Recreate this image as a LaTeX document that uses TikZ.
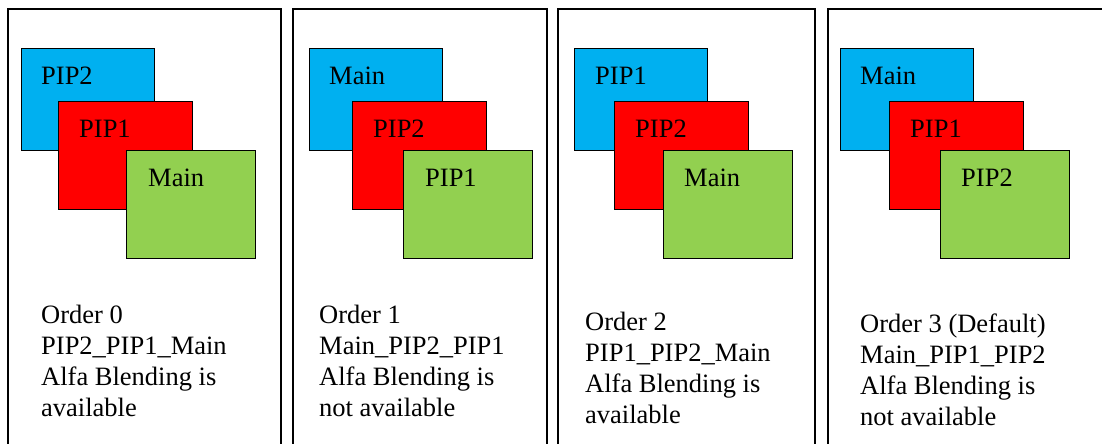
\documentclass[tikz,border=0pt]{standalone}
\usepackage{fontspec}
\setmainfont{Liberation Serif}
\usepackage{xcolor}
\usepackage{tikz}
\definecolor{winblue}{HTML}{00B0F0}
\definecolor{winred}{HTML}{FF0000}
\definecolor{wingreen}{HTML}{92D050}
\tikzset{
    pane/.style = {draw=black, line width=1.3pt},
    win/.style = {rectangle, draw=black, line width=1.4pt, anchor=north west, inner sep=0pt},
    blue_win/.style = {win, fill=winblue, minimum width=133pt, minimum height=102pt},
    red_win/.style = {win, fill=winred, minimum width=134pt, minimum height=108pt},
    green_win/.style = {win, fill=wingreen, minimum width=129pt, minimum height=108pt},
    wname/.style = {anchor=base west, inner sep=0pt, font=\fontsize{26.5}{31}\selectfont},
    otext/.style = {anchor=north west, inner sep=0pt, align=left, font=\fontsize{26.5}{31}\selectfont}
}
\begin{document}
\begin{tikzpicture}[x=1pt, y=-1pt]
    \useasboundingbox (0,0) rectangle (1102,444);
    \clip (0,0) rectangle (1102,444);
    % frames
    \draw[pane] (8,9) rectangle (281,470);
    \draw[pane] (293,9) rectangle (547,470);
    \draw[pane] (558,9) rectangle (815,470);
    \draw[pane] (828,9) rectangle (1120,470);
    % order 0
    \node[blue_win] (b0) at (21,48) {};
    \node[red_win] (r0) at (58,101) {};
    \node[green_win] (g0) at (126,150) {};
    \node[wname] (b0t) at ([xshift=20pt,yshift=-36pt]b0.north west) {PIP2};
    \node[wname] (r0t) at ([xshift=21pt,yshift=-36pt]r0.north west) {PIP1};
    \node[wname] (g0t) at ([xshift=22pt,yshift=-36pt]g0.north west) {Main};
    \node[otext] (o0) at (41,305) {Order 0\\PIP2\_PIP1\_Main\\Alfa Blending is\\available};
    % order 1
    \node[blue_win] (b1) at (309,48) {};
    \node[red_win] (r1) at (352,101) {};
    \node[green_win] (g1) at (403,150) {};
    \node[wname] (b1t) at ([xshift=20pt,yshift=-36pt]b1.north west) {Main};
    \node[wname] (r1t) at ([xshift=21pt,yshift=-36pt]r1.north west) {PIP2};
    \node[wname] (g1t) at ([xshift=22pt,yshift=-36pt]g1.north west) {PIP1};
    \node[otext] (o1) at (319,305) {Order 1\\Main\_PIP2\_PIP1\\Alfa Blending is\\not available};
    % order 2
    \node[blue_win] (b2) at (574,48) {};
    \node[red_win] (r2) at (614,101) {};
    \node[green_win] (g2) at (663,150) {};
    \node[wname] (b2t) at ([xshift=21pt,yshift=-36pt]b2.north west) {PIP1};
    \node[wname] (r2t) at ([xshift=21pt,yshift=-36pt]r2.north west) {PIP2};
    \node[wname] (g2t) at ([xshift=21pt,yshift=-36pt]g2.north west) {Main};
    \node[otext] (o2) at (585,312) {Order 2\\PIP1\_PIP2\_Main\\Alfa Blending is\\available};
    % order 3
    \node[blue_win] (b3) at (840,48) {};
    \node[red_win] (r3) at (889,101) {};
    \node[green_win] (g3) at (940,150) {};
    \node[wname] (b3t) at ([xshift=20pt,yshift=-36pt]b3.north west) {Main};
    \node[wname] (r3t) at ([xshift=21pt,yshift=-36pt]r3.north west) {PIP1};
    \node[wname] (g3t) at ([xshift=21pt,yshift=-36pt]g3.north west) {PIP2};
    \node[otext] (o3) at (860,314) {Order 3 (Default)\\Main\_PIP1\_PIP2\\Alfa Blending is\\not available};
\end{tikzpicture}
\end{document}
